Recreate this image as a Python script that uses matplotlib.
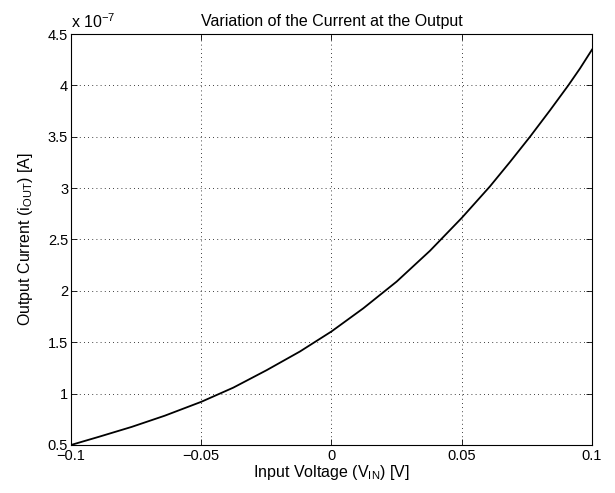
import matplotlib
matplotlib.use('Agg')
from matplotlib import pyplot as plt

# Values (current in units of 1e-7 A)
v_in = [-0.1, -0.0895, -0.0767, -0.064, -0.05, -0.0377, -0.0249, -0.0121,
        0.0, 0.0122, 0.025, 0.0378, 0.05, 0.0608, 0.0685, 0.0762, 0.0839,
        0.0909, 0.0954, 0.1]
i_out = [0.5, 0.578, 0.676, 0.785, 0.92, 1.058, 1.228, 1.41,
         1.605, 1.83, 2.09, 2.39, 2.71, 3.016, 3.254, 3.5, 3.758,
         4.0, 4.165, 4.348]
x_ticks = [-0.1, -0.05, 0, 0.05, 0.1]
x_labels = ['\u22120.1', '\u22120.05', '0', '0.05', '0.1']
y_ticks = [0.5, 1, 1.5, 2, 2.5, 3, 3.5, 4, 4.5]
y_labels = ['0.5', '1', '1.5', '2', '2.5', '3', '3.5', '4', '4.5']

plt.rcParams['font.family'] = ['Liberation Sans', 'DejaVu Sans']
plt.rcParams['font.size'] = 10
plt.rcParams['mathtext.fontset'] = 'custom'
plt.rcParams['mathtext.rm'] = 'Liberation Sans'
plt.rcParams['mathtext.it'] = 'Liberation Sans:italic'

fig = plt.figure(figsize=(6.15, 4.93), dpi=100)
ax = fig.add_axes([0.1154, 0.0974, 0.8472, 0.8336])

ax.plot(v_in, i_out, color='black', linewidth=1.3)

ax.set_xlim(-0.1, 0.1)
ax.set_ylim(0.5, 4.5)
ax.set_xticks(x_ticks)
ax.set_xticklabels(x_labels)
ax.set_yticks(y_ticks)
ax.set_yticklabels(y_labels)
ax.tick_params(direction='in', top=True, right=True, length=4, width=0.6,
               labelsize=10.5, pad=2)
ax.tick_params(axis='x', pad=3)
ax.grid(True, linestyle=(0, (1, 4)), color='black', linewidth=0.6)
for spine in ax.spines.values():
  spine.set_linewidth(0.8)

ax.set_title('Variation of the Current at the Output', fontsize=11.5, pad=6)
ax.set_xlabel(r'Input Voltage (V$_{\mathrm{IN}}$) [V]', fontsize=11.5, labelpad=0)
ax.set_ylabel(r'Output Current (i$_{\mathrm{OUT}}$) [A]', fontsize=11.5, labelpad=9)
ax.text(0.0, 1.008, r'x 10$^{-7}$', transform=ax.transAxes, ha='left',
        va='bottom', fontsize=11.5)

fig.savefig('out.png', dpi=100)
